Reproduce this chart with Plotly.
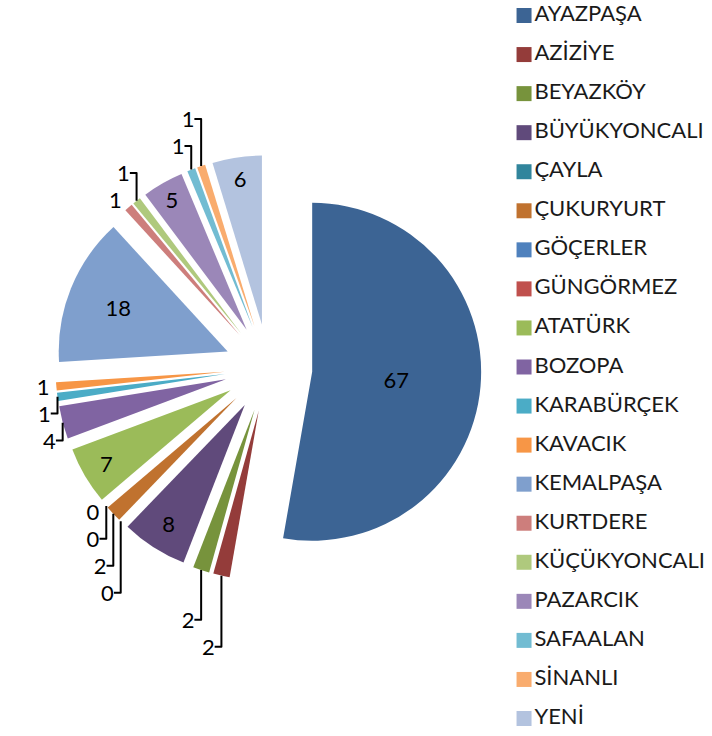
import plotly.graph_objects as go

# mahalle names and their values, in the order of the legend
labels = ['AYAZPAŞA', 'AZİZİYE', 'BEYAZKÖY', 'BÜYÜKYONCALI', 'ÇAYLA', 'ÇUKURYURT',
          'GÖÇERLER', 'GÜNGÖRMEZ', 'ATATÜRK', 'BOZOPA', 'KARABÜRÇEK', 'KAVACIK',
          'KEMALPAŞA', 'KURTDERE', 'KÜÇÜKYONCALI', 'PAZARCIK', 'SAFAALAN',
          'SİNANLI', 'YENİ']
values = [67, 2, 2, 8, 0, 2, 0, 0, 7, 4, 1, 1, 18, 1, 1, 5, 1, 1, 6]

# excel 2007 style palette: dark, normal, light shades of the accents
colors = ['#3C6494', '#943C3A', '#77933C', '#604A7B', '#31859C', '#C0722F',
          '#4F81BD', '#C0504D', '#9BBB59', '#8064A2', '#4BACC6', '#F79646',
          '#7F9FCD', '#CD7E7C', '#AFC97D', '#9B87B8', '#72BCD2', '#F9AC6E',
          '#B3C3DF']

FONT = 'Lato, Carlito, Calibri, sans-serif'

textpos = ['inside' if v >= 5 else 'outside' for v in values]

fig = go.Figure()

fig.add_trace(go.Pie(
    labels=labels,
    values=values,
    marker=dict(colors=colors, line=dict(width=0)),
    sort=False,
    direction='clockwise',
    rotation=0,
    pull=0.26,
    textinfo='value',
    textposition=textpos,
    insidetextorientation='horizontal',
    textfont=dict(family=FONT, size=22, color='black'),
    domain=dict(x=[0.078, 0.676], y=[0.2106, 0.7894]),
    automargin=False,
    hoverinfo='label+value',
    showlegend=False,
))

# legend drawn as a column of squares with names
rows = list(range(len(labels)))
fig.add_trace(go.Scatter(
    x=[0] * len(labels),
    y=rows,
    mode='markers+text',
    marker=dict(symbol='square', size=15, color=colors),
    text=labels,
    textposition='middle right',
    textfont=dict(family=FONT, size=22, color='#1a1a1a'),
    hoverinfo='skip',
    showlegend=False,
    cliponaxis=False,
    xaxis='x', yaxis='y',
))

fig.update_layout(
    width=712,
    height=736,
    margin=dict(l=0, r=0, t=0, b=0, autoexpand=False),
    paper_bgcolor='white',
    plot_bgcolor='white',
    showlegend=False,
    xaxis=dict(domain=[0.72, 1.0], range=[-11.4, 188], visible=False, fixedrange=True),
    yaxis=dict(domain=[0, 1], range=[18.448, -0.397], visible=False, fixedrange=True),
)

# drop the browser's default body margin so the figure sits at the page corner
fig.write_html('out.html', config={'displayModeBar': False},
               post_script="document.body.style.margin='0';")
